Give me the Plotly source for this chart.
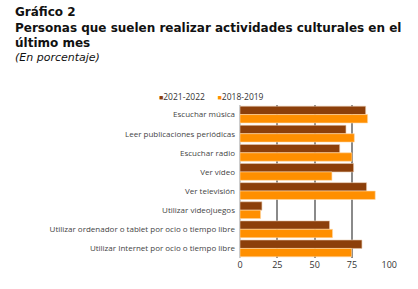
import plotly.graph_objects as go

categories = [
    "Escuchar música",
    "Leer publicaciones periódicas",
    "Escuchar radio",
    "Ver vídeo",
    "Ver televisión",
    "Utilizar videojuegos",
    "Utilizar ordenador o tablet por ocio o tiempo libre",
    "Utilizar Internet por ocio o tiempo libre",
]
series_names = ["2021-2022", "2018-2019"]
series_colors = ["#8C3F0A", "#FF8F00"]
values_2021 = [84.2, 71.0, 66.8, 76.1, 84.8, 14.7, 60.0, 81.7]
values_2018 = [85.5, 76.6, 75.0, 61.6, 90.6, 13.8, 62.0, 74.8]
tick_vals = [0, 25, 50, 75, 100]
title_lines = ["Gráfico 2", "Personas que suelen realizar actividades culturales en el", "último mes"]
subtitle = "(En porcentaje)"

W, H = 418, 289
ml, mr, mt, mb = 240, 28, 105, 31
pw = W - ml - mr
ph = H - mt - mb

def px(x):
    return (x - ml) / pw

def py(y):
    return 1 - (y - mt) / ph

fig = go.Figure()
for vals, name, col, lc in [(values_2021, series_names[0], series_colors[0], "#E8C9AE"),
                            (values_2018, series_names[1], series_colors[1], "#FFD9A8")]:
    fig.add_trace(go.Bar(
        y=categories, x=vals, name=name, orientation="h", showlegend=False,
        marker=dict(color=col, line=dict(color=lc, width=0.6)),
    ))

fig.update_layout(
    width=W, height=H,
    margin=dict(l=ml, r=mr, t=mt, b=mb),
    paper_bgcolor="white", plot_bgcolor="white",
    barmode="group", bargap=0.12, bargroupgap=0.0,
    showlegend=False,
    font=dict(family="Open Sans", size=8, color="#444444"),
)
fig.update_xaxes(range=[0, 100.5], tickvals=tick_vals, showgrid=True,
                 gridcolor="#8a8a8a", gridwidth=1.5, zeroline=True,
                 zerolinecolor="#cccccc", zerolinewidth=1.5,
                 tickfont=dict(family="Open Sans", size=9, color="#333333"),
                 ticks="", fixedrange=True)
fig.update_yaxes(autorange="reversed", showgrid=False, ticks="",
                 tickfont=dict(family="Open Sans", size=8, color="#444444"),
                 ticklabelstandoff=4)

# legend (colored squares + labels)
legend_text = "\u2003\u2002".join(
    f'<span style="color:{c}; font-size:7px">■</span>{n}' for n, c in zip(series_names, series_colors)
)
fig.add_annotation(
    xref="paper", yref="paper", x=px(157), y=py(96), xanchor="left", yanchor="middle",
    showarrow=False, text=legend_text,
    font=dict(family="Open Sans", size=8.5, color="#333333"),
)

fig.add_annotation(
    xref="paper", yref="paper", x=px(13), y=py(3), xanchor="left", yanchor="top",
    align="left", showarrow=False, text="<b>" + "<br>".join(title_lines) + "</b>",
    font=dict(family="DejaVu Sans", size=12, color="#111111"),
)
fig.add_annotation(
    xref="paper", yref="paper", x=px(13), y=py(57), xanchor="left", yanchor="middle",
    align="left", showarrow=False, text="<i>" + subtitle + "</i>",
    font=dict(family="DejaVu Sans", size=11, color="#111111"),
)

fig.write_html("out.html")
